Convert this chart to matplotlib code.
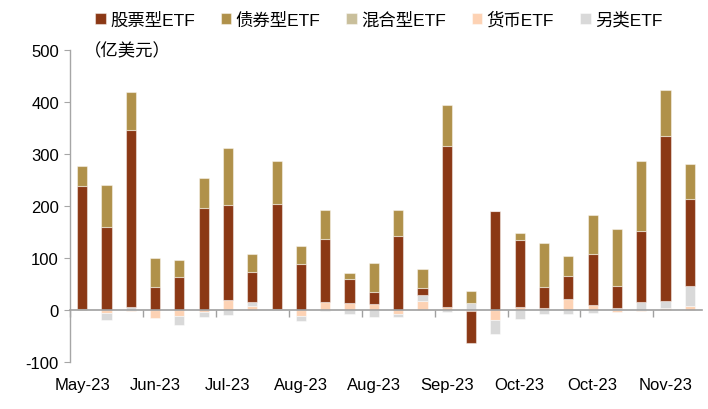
import numpy as np
import matplotlib

matplotlib.use("Agg")
import matplotlib.pyplot as plt

# -- Data (weekly ETF net flows, 亿美元) ---------------------------------------

TICK_LABELS = ["May-23", "Jun-23", "Jul-23", "Aug-23", "Aug-23",
               "Sep-23", "Oct-23", "Oct-23", "Nov-23"]

stock = [236, 160, 341, 45, 63, 197, 181, 57, 201, 89, 122, 47, 23,
         142, 14, 310, -62, 191, 129, 40, 43, 97, 43, 136, 317, 167]
bond = [39, 80, 73, 55, 34, 57, 111, 35, 83, 35, 55, 12, 56,
        50, 36, 79, 23, 0, 15, 84, 38, 75, 110, 134, 89, 68]
mixed = [2, 0, 0, 0, 0, 0, 0, 0, 0, 0, 0, 0, 0,
         0, 0, 0, 0, 0, 0, 0, 0, 0, 0, 0, 0, 0]
money = [0, -6, -2, -16, -11, -3, 20, 8, 0, -12, 15, 13, 11,
         -8, 18, 5, -2, -19, 5, 4, 22, 10, -4, -2, 4, 8]
other = [0, -13, 6, 0, -17, -10, -10, 8, 2, -10, -2, -8, -14,
         -6, 10, -4, 13, -28, -18, -8, -8, -6, 3, 16, 14, 38]

SERIES = {
    "股票型ETF": (stock, "#8B3815"),
    "债券型ETF": (bond, "#B0914A"),
    "混合型ETF": (mixed, "#C9BF9B"),
    "货币ETF": (money, "#FDD2B4"),
    "另类ETF": (other, "#D9D9D9"),
}
STACK_ORDER = ["货币ETF", "另类ETF", "混合型ETF", "股票型ETF", "债券型ETF"]
LEGEND_ORDER = ["股票型ETF", "债券型ETF", "混合型ETF", "货币ETF", "另类ETF"]

FONTS = ["Liberation Sans", "Noto Sans CJK SC", "DejaVu Sans"]
plt.rcParams["font.family"] = FONTS
plt.rcParams["axes.unicode_minus"] = False

n = len(stock)
x = np.arange(n)

fig = plt.figure(figsize=(7.08, 4.10), dpi=100)
ax = fig.add_axes([70 / 708, 47 / 410, 632 / 708, 312 / 410])

pos_bottom = np.zeros(n)
neg_bottom = np.zeros(n)
handles = {}
for name in STACK_ORDER:
    vals, color = SERIES[name]
    vals = np.array(vals, dtype=float)
    bottom = np.where(vals >= 0, pos_bottom, neg_bottom)
    bars = ax.bar(x, vals, 0.42, bottom=bottom, color=color,
                  edgecolor=(1, 1, 1, 0.45), linewidth=0.8, zorder=2)
    handles[name] = bars
    pos_bottom += np.clip(vals, 0, None)
    neg_bottom += np.clip(vals, None, 0)

ax.set_xlim(-0.5, n - 0.5)
ax.set_ylim(-100, 500)
ax.set_yticks(np.arange(-100, 501, 100))

# axes styling
for side in ["top", "right"]:
    ax.spines[side].set_visible(False)
ax.spines["left"].set_color("#A6A6A6")
ax.spines["left"].set_linewidth(1.0)
ax.spines["bottom"].set_position(("data", 0))
ax.spines["bottom"].set_color("#A0A0A0")
ax.spines["bottom"].set_linewidth(1.2)
ax.spines["bottom"].set_zorder(3)

ax.tick_params(axis="y", direction="out", length=4, color="#A6A6A6",
               labelsize=12, pad=4)
ax.set_xticks(x[::3])
ax.set_xticklabels(TICK_LABELS)
ax.set_xticks(np.arange(-0.5, n - 1, 3), minor=True)
ax.tick_params(axis="x", which="major", length=0, labelsize=12, pad=48)
ax.tick_params(axis="x", which="minor", direction="out", length=5,
               color="#A0A0A0", width=1.0)

ax.text(0.022, 1.0, "（亿美元）", transform=ax.transAxes, fontsize=12.5,
        ha="left", va="center", family=FONTS)

fig.legend([handles[k] for k in LEGEND_ORDER], LEGEND_ORDER,
           loc="center", bbox_to_anchor=(0.535, 0.951), ncol=5,
           frameon=False, fontsize=12.5, handlelength=0.6, handleheight=0.6,
           handletextpad=0.25, columnspacing=1.5)

plt.savefig("out.png", dpi=100)
plt.close()
